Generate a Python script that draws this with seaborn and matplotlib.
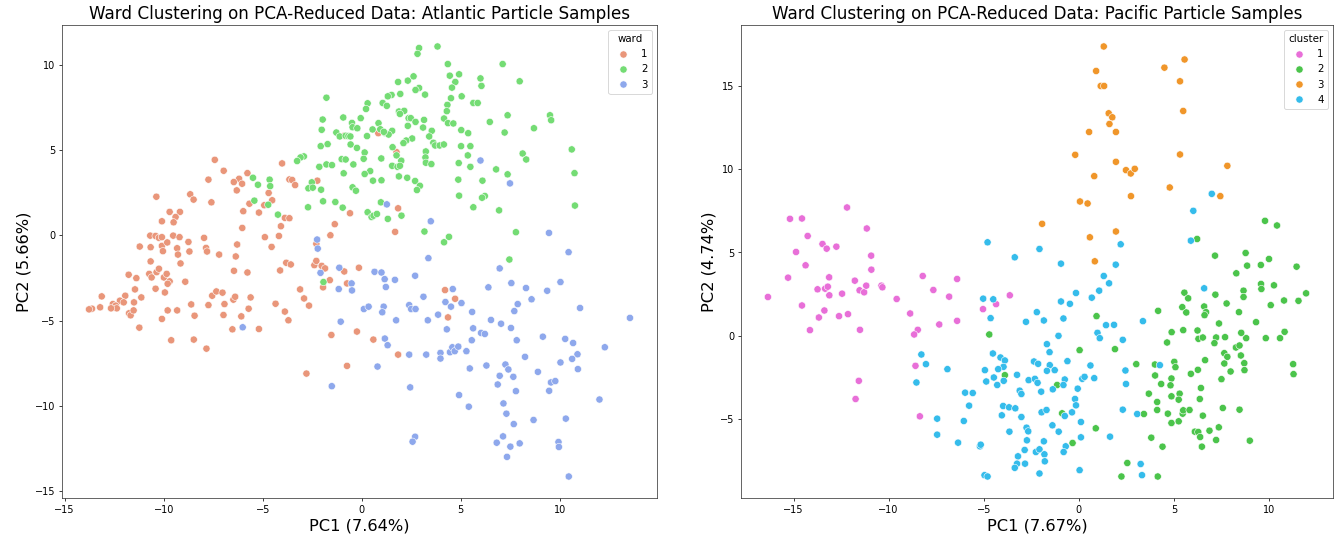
import numpy as np
import pandas as pd
import matplotlib
matplotlib.use("Agg")
import matplotlib.pyplot as plt
import seaborn as sns

# ---------------- Atlantic (left) ----------------
atl_c1 = [(-7.42,4.42),(-6.97,3.78),(-5.77,3.64),(-7.74,3.26),(-6.19,3.31),(-6.46,3.12),(-6.04,3.02),(-6.31,2.63),
(-10.37,2.26),(-8.66,2.40),(-8.49,2.09),(-7.59,1.93),(-5.67,1.85),(-9.70,1.37),(-9.18,1.37),(-9.40,1.07),(-9.50,0.76),
(-10.09,0.82),(-5.98,1.41),(-5.19,1.33),(-6.03,0.43),(-10.68,-0.02),(-10.41,-0.04),(-10.24,-0.15),(-10.09,-0.11),
(-9.52,-0.02),(-9.20,-0.11),(-7.96,-0.15),(-11.21,-0.66),(-10.66,-0.70),(-10.09,-0.62),(-9.82,-0.42),(-9.32,-0.76),
(-8.75,-0.39),(-7.86,-0.74),(-7.81,-0.95),(-6.29,-0.54),(-10.04,-0.93),(-9.28,-1.13),(-8.70,-0.95),(-7.20,-1.13),(-6.36,-1.24),
(0.84,5.98),(-0.88,5.83),(1.76,4.87),(-4.02,4.21),(-3.65,3.27),(-3.51,3.24),(-3.36,2.94),(-2.24,3.20),(-4.70,2.48),
(-4.52,2.05),(-4.92,1.76),(-0.59,1.29),(1.84,1.58),(-3.88,1.02),(-3.65,1.00),(-4.08,0.53),(-1.36,0.65),(-4.89,-0.11),
(-4.18,-0.04),(-1.58,0.00),(1.69,0.20),(-4.55,-0.68),(-2.29,-0.50),
(-10.66,-1.53),(-9.15,-1.65),(-11.77,-2.31),(-11.38,-2.51),(-10.73,-2.26),(-10.61,-2.47),(-10.36,-2.16),(-10.24,-1.96),
(-9.99,-2.47),(-9.85,-2.26),(-9.70,-2.70),(-9.80,-2.84),(-8.91,-2.72),(-11.45,-3.17),(-10.41,-3.13),(-9.94,-3.35),
(-13.13,-3.58),(-11.94,-3.54),(-12.21,-3.83),(-12.02,-3.93),(-12.57,-4.03),(-11.50,-3.93),(-11.13,-3.64),(-12.42,-4.12),
(-12.37,-4.28),(-12.66,-4.28),(-13.21,-4.22),(-13.62,-4.30),(-13.77,-4.34),(-11.75,-4.57),(-11.67,-4.69),(-11.52,-4.40),
(-10.09,-4.90),(-9.80,-4.40),(-9.32,-4.40),(-11.23,-5.41),(-8.61,-4.05),(-8.44,-4.71),(-9.62,-6.15),(-8.48,-6.11),
(-7.84,-6.64),(-7.74,-4.09),(-7.55,-3.54),(-7.34,-3.29),(-7.03,-3.36),(-6.93,-4.03),(-6.98,-4.67),(-6.48,-3.77),
(-6.39,-3.60),(-6.45,-2.08),(-5.77,-2.18),(-5.71,-4.30),(-5.61,-3.64),(-6.08,-4.75),(-6.53,-5.51),(-5.19,-5.49),
(-3.81,-1.61),(-3.58,-1.71),(-4.12,-2.06),(-2.39,-1.75),(-2.29,-1.50),(-2.02,-1.79),(-1.85,-1.94),(-1.61,-2.63),
(-0.88,-2.12),(-0.74,-2.82),(-1.95,-3.05),(-0.14,-1.90),(-3.11,-3.17),(-2.91,-3.70),(-4.35,-4.01),(-2.66,-4.12),
(-3.88,-4.47),(-3.70,-4.98),(-1.53,-5.84),(-0.24,-5.64),(0.59,-6.11),(1.84,-6.99),(-0.74,-7.65),(-2.79,-8.10),
(4.21,-3.21),(4.72,-3.72),(4.36,-4.81)]

atl_c2 = [(-5.49,3.37),(-5.24,2.96),(-5.42,2.03),
(2.90,10.97),(2.82,10.63),(3.83,11.06),(4.35,10.03),(4.45,9.35),(4.92,9.43),(4.73,8.98),(1.84,8.98),(2.33,9.06),
(2.62,9.31),(4.56,8.65),(2.90,8.63),(2.72,8.51),(1.51,8.22),(1.32,8.14),(1.95,8.28),(3.20,8.24),(5.05,8.14),(-1.78,8.06),
(4.51,8.03),(0.30,7.73),(0.22,7.40),(1.06,7.75),(1.27,7.58),(4.33,7.64),(1.88,7.25),(2.15,7.29),(1.93,7.11),(4.30,7.27),
(-0.93,6.90),(-0.05,6.86),(-1.97,6.78),(2.37,6.86),(2.48,6.86),(3.15,6.76),(4.16,6.84),(2.72,6.64),(-0.49,6.58),
(-0.46,6.33),(-0.22,6.27),(0.85,6.57),(2.33,6.41),(3.10,6.31),(4.36,6.57),(4.63,6.55),(-2.02,6.18),(0.55,6.20),
(0.94,6.21),(1.17,6.00),(1.54,6.12),(1.36,5.90),(1.12,6.06),(-1.28,6.02),(-1.11,5.79),(-0.81,5.83),(-0.67,5.81),
(-0.57,5.79),(0.27,5.81),(5.03,6.16),(3.54,6.12),(3.41,5.79),(2.55,5.67),(2.25,5.55),(2.11,5.40),(-2.07,5.22),
(-1.72,5.34),(-0.56,5.32),(-0.24,5.12),(1.56,5.16),(3.62,5.42),(3.71,5.26),(3.94,5.26),(4.15,5.32),(3.24,4.91),
(5.02,5.22),(0.15,4.85),(-2.92,4.62),(-3.09,4.56),(-3.26,4.35),(1.76,4.68),(3.22,4.56),(0.10,4.48),(-1.01,4.46),
(-0.81,4.44),(-2.14,4.01),(-1.78,4.15),(-1.50,4.11),(-0.42,4.15),(0.99,4.50),(2.00,4.37),(3.24,4.25),(3.52,4.17),
(4.90,4.23),(1.54,4.07),(1.81,4.01),(1.93,4.07),(0.43,3.76),(0.15,3.59),(-0.91,3.63),(-4.65,3.26),(-4.62,2.88),
(1.88,3.45),(2.30,3.37),(2.70,3.18),(0.57,3.20),(1.00,3.22),(-2.52,3.10),(-2.69,2.75),(-2.47,2.79),(-2.05,2.67),
(-0.46,2.81),(-0.29,2.61),(2.94,2.90),(2.79,2.65),(4.88,3.26),(-4.72,1.79),(-1.95,1.99),(-1.33,1.95),(-0.96,1.62),
(-2.71,1.64),(0.97,1.93),(4.92,2.32),(-4.23,1.21),(0.30,1.35),(0.50,1.07),(0.60,1.15),(0.77,1.25),(1.32,0.96),
(2.01,1.15),(3.17,0.22),(4.16,-0.41),(4.41,-0.09),
(7.12,10.03),(6.00,9.19),(6.05,8.75),(7.98,9.02),(5.64,7.75),(5.86,7.75),(7.37,7.03),(6.47,6.64),(9.51,7.03),
(9.57,6.74),(7.22,6.02),(8.70,6.27),(5.38,5.98),(5.49,5.22),(5.36,4.68),(5.49,4.01),(10.61,5.03),(8.13,4.79),
(8.31,4.44),(6.79,3.86),(7.37,3.57),(10.75,3.64),(6.10,3.20),(6.22,2.30),(6.08,2.20),(5.64,1.64),(6.94,1.46),
(10.77,1.74),(7.79,0.18),(7.46,-1.42),(-1.93,-2.74)]

atl_c3 = [(1.27,1.81),(3.49,0.82),(-2.25,-0.25),(-2.22,-0.78),(6.00,4.38),(7.49,3.04),(9.46,0.14),(10.45,-0.99),
(-6.01,-5.39),
(-2.08,-2.20),(-1.13,-1.90),(-0.51,-2.82),(-0.49,-3.23),(-1.16,-3.15),(0.65,-2.14),(1.00,-2.18),(1.16,-2.57),
(1.22,-3.03),(1.68,-2.61),(2.70,-2.37),(3.37,-1.34),(0.11,-4.32),(0.35,-4.18),(1.11,-4.18),(1.04,-4.51),(2.40,-4.09),
(2.50,-4.32),(2.72,-4.32),(3.12,-3.60),(1.74,-4.98),(-1.06,-5.06),(3.34,-4.98),(3.86,-4.65),(4.23,-3.91),(4.51,-4.18),
(4.60,-3.15),(5.04,-3.97),(4.30,-5.51),(1.17,-6.05),(1.31,-6.44),(2.40,-6.99),(3.26,-6.99),(3.98,-6.89),(3.98,-7.22),
(4.46,-6.85),(4.58,-6.56),(4.70,-6.79),(4.88,-6.52),(0.80,-7.69),(-1.51,-8.84),(2.45,-8.91),(4.92,-9.36),(2.70,-11.80),
(2.57,-12.09),
(6.97,-1.94),(6.40,-3.05),(7.56,-2.80),(8.30,-3.09),(9.37,-3.25),(10.04,-2.74),(8.58,-3.75),(7.88,-4.03),(7.71,-4.44),
(5.58,-4.49),(11.03,-4.26),(13.55,-4.84),(6.53,-4.96),(7.04,-5.18),(7.54,-5.43),(5.63,-5.45),(6.03,-5.72),(6.22,-5.78),
(5.56,-6.15),(7.83,-6.15),(9.15,-5.94),(10.28,-6.07),(10.68,-6.31),(12.28,-6.56),(5.29,-6.79),(8.25,-7.12),(10.90,-6.97),
(10.63,-7.24),(10.04,-7.45),(10.92,-7.84),(5.46,-7.80),(6.30,-7.63),(7.26,-7.57),(7.41,-7.86),(8.90,-8.00),(6.97,-8.23),
(7.66,-8.29),(6.87,-8.74),(9.56,-8.62),(9.78,-8.54),(7.79,-9.13),(9.47,-9.11),(12.01,-9.62),(5.41,-10.04),(7.16,-9.85),
(7.31,-10.45),(8.68,-10.82),(10.31,-10.74),(7.68,-11.06),(7.14,-11.78),(6.82,-12.15),(7.51,-12.38),(7.98,-12.19),
(9.94,-12.11),(9.96,-12.40),(7.34,-12.98),(10.46,-14.13)]

# ---------------- Pacific (right) ----------------
pac_c1 = [(-15.19,7.02),(-14.56,7.04),(-12.19,7.70),(-14.26,5.99),(-11.15,6.44),(-13.48,5.51),(-13.26,5.23),
(-12.75,5.35),(-14.87,5.03),(-10.92,4.81),
(-14.37,4.23),(-15.29,3.49),(-16.35,2.33),(-14.56,1.82),(-14.14,0.34),(-13.74,2.79),(-13.34,2.83),(-13.20,2.95),
(-13.13,3.51),(-13.12,2.43),(-13.38,1.52),(-13.67,1.10),(-12.45,2.53),(-12.61,1.18),(-12.14,1.30),(-11.78,3.31),
(-11.53,2.73),(-11.29,2.61),(-11.18,3.01),(-10.91,3.97),(-10.38,3.01),(-10.33,2.91),(-9.58,2.21),(-8.87,1.34),
(-8.47,0.36),(-8.66,0.08),(-11.51,0.36),(-8.59,-1.80),(-11.57,-2.70),(-11.74,-3.79),(-8.36,-4.83),
(-8.21,3.59),(-7.65,2.75),(-6.40,3.41),(-6.82,2.35),(-5.04,1.60),(-4.35,1.90),(-3.63,2.43),(-6.40,0.90),(-7.34,0.68)]

pac_c2 = [(9.79,6.90),(10.42,6.62),(6.22,5.81),(7.16,4.81),(8.77,4.97),
(0.93,1.18),(-4.71,0.08),(0.04,-0.86),(1.90,-0.80),(-3.89,-2.36),(-1.14,-2.95),(-0.88,-4.65),(0.89,-5.55),(-0.33,-6.43),
(8.85,4.21),(9.57,4.25),(10.00,4.61),(11.45,4.15),(8.28,3.75),(9.58,3.11),(10.26,3.03),(9.60,2.81),(8.66,2.71),
(8.66,2.33),(5.55,2.59),(5.75,2.25),(7.18,2.47),(11.95,2.55),(10.79,2.12),(11.55,2.10),(10.09,1.84),(7.77,1.94),
(4.17,1.50),(5.44,1.72),(5.65,1.40),(6.59,1.76),(6.69,1.42),(6.61,1.24),(8.42,1.42),(9.32,0.82),(7.37,0.74),
(4.88,0.22),(5.49,0.34),(6.24,0.32),(6.29,-0.18),(6.52,-0.10),(7.22,-0.10),(7.69,-0.08),(8.80,-0.14),(8.54,0.18),
(9.83,-0.14),(10.58,-0.14),(10.82,0.24),(4.64,-0.40),(7.13,-0.44),(8.26,-0.70),(8.45,-0.58),(7.65,-1.04),(7.81,-1.26),
(8.52,-1.18),(6.64,-1.46),(8.70,-1.64),(7.65,-1.66),(8.71,-2.06),(7.98,-2.14),(7.50,-2.60),(6.26,-2.04),(5.89,-2.28),
(11.27,-1.70),(11.29,-2.30),(5.02,-1.56),(5.08,-1.88),(4.00,-1.72),(3.02,-1.70),(4.01,-2.38),(4.87,-2.56),(4.82,-2.97),
(4.33,-2.89),(6.42,-3.13),(6.36,-3.79),(4.87,-3.63),(5.30,-3.47),(5.25,-3.83),(3.68,-3.47),(4.12,-3.97),(4.12,-4.45),
(4.68,-4.67),(5.46,-4.67),(5.49,-4.47),(5.82,-4.45),(6.52,-4.79),(7.57,-4.33),(8.45,-4.43),(4.87,-5.23),(5.25,-5.13),
(3.42,-4.69),(6.10,-5.75),(6.28,-5.77),(6.38,-6.07),(6.87,-5.69),(7.36,-5.49),(7.22,-6.25),(8.99,-6.29),(3.81,-6.11),
(4.40,-6.65),(6.47,-6.65),(2.55,-7.63),(2.24,-8.44),(4.15,-8.44)]

pac_c3 = [(1.31,17.36),(0.91,15.89),(1.15,14.99),(1.33,14.99),(1.57,13.35),(1.76,13.11),(1.61,12.71),(0.54,12.23),
(1.95,12.23),(-0.19,10.86),(1.95,10.44),(0.81,9.58),(0.06,8.06),(0.46,7.94),(-1.93,6.72),(1.95,6.26),(0.58,5.91),
(5.56,16.58),(4.50,16.09),(5.32,15.27),(5.49,13.49),(5.32,10.88),(7.81,10.20),(2.48,9.94),(2.73,9.74),(2.94,10.02),
(4.78,8.90),(2.74,8.38),(7.44,8.38),(0.84,4.47)]

pac_c4 = [(-4.80,5.61),(-2.07,5.21),(-3.37,4.71),(6.99,8.52),(6.02,7.50),(5.89,5.71),(2.20,5.49),(-8.28,-1.12),(-8.54,-2.80),
(-0.94,4.33),(1.94,4.27),(1.31,3.59),(1.59,3.15),(1.07,2.71),(-0.15,2.57),(0.68,2.29),(-0.94,2.06),(-0.47,1.92),
(-5.03,2.23),(-4.50,2.19),(-2.21,1.42),(-4.64,1.06),(-2.78,0.84),(-1.84,0.92),(-0.81,1.04),(1.43,0.64),(1.85,0.66),
(0.98,0.18),(1.10,-0.14),(-1.07,0.00),(-1.68,-0.50),(-1.54,-0.98),(-4.52,-1.06),(-4.12,-1.30),(-3.89,-1.48),(-3.96,-1.86),
(-4.24,-2.00),(-4.47,-2.50),(-4.87,-2.74),(-4.29,-2.95),(-3.95,-2.70),(-4.94,-2.06),(-8.04,-1.70),(-6.91,-2.00),
(-2.36,-1.54),(-2.14,-1.68),(-1.53,-1.76),(-1.68,-2.10),(-1.27,-2.06),(-0.60,-1.52),(0.61,-1.78),(-3.25,-2.34),
(-2.64,-2.66),(-2.31,-2.58),(-2.17,-2.82),(-0.74,-2.62),(-0.81,-2.95),(0.18,-2.58),(0.30,-2.46),(0.81,-2.54),
(-1.98,-3.35),(-1.37,-3.21),(-3.11,-3.29),(-3.02,-3.49),(-5.98,-3.41),(-5.58,-3.43),(-0.06,-3.17),(-0.20,-3.79),
(-0.15,-4.17),(-5.77,-4.19),(-3.98,-4.21),(-3.67,-4.29),(-3.34,-4.35),(-4.05,-4.77),(-3.02,-4.87),(-1.96,-4.59),
(-1.70,-4.45),(-0.36,-4.59),(-0.74,-4.81),(-7.45,-4.97),(-6.05,-5.11),(0.11,-5.17),(-1.39,-5.37),(-2.75,-5.51),
(-2.66,-5.73),(-3.65,-5.75),(-1.06,-5.75),(-7.45,-5.93),(0.11,-6.09),(1.64,-6.05),(-6.35,-6.41),(-5.20,-6.63),
(-5.16,-6.53),(-2.73,-6.27),(-1.84,-6.33),(-0.69,-6.63),(-0.80,-6.97),(-2.26,-6.97),(-2.07,-6.81),(-1.81,-7.11),
(-2.85,-6.85),(-3.20,-7.23),(-1.79,-7.53),(-3.25,-7.67),(-2.83,-7.67),(-3.37,-7.92),(0.04,-8.06),(-2.07,-8.26),
(-4.96,-8.36),(-4.80,-8.44),
(6.59,2.85),(3.37,0.88),(2.31,-0.24),(2.45,-2.08),(2.48,-2.89),(2.31,-4.43),(4.26,-1.76),(3.07,-4.69),(3.25,-7.69),(3.32,-8.36)]

atl_labels = ["1", "2", "3"]
pac_labels = ["1", "2", "3", "4"]
atl_colors = ["#E9967A", "#74DC74", "#8EA8EC"]
pac_colors = ["#E86FD8", "#4BC44B", "#F0962A", "#35BCEB"]

def build(groups, labels, col):
    rows = []
    for lab, pts in zip(labels, groups):
        for x, y in pts:
            rows.append((x, y, lab))
    return pd.DataFrame(rows, columns=["PC1", "PC2", col])

df_atl = build([atl_c1, atl_c2, atl_c3], atl_labels, "ward")
df_pac = build([pac_c1, pac_c2, pac_c3, pac_c4], pac_labels, "cluster")

fig = plt.figure(figsize=(20, 8.063), dpi=67.1)
W, H = 1342, 541
ax1 = fig.add_axes([62 / W, (H - 498) / H, (657 - 62) / W, (498 - 25) / H])
ax2 = fig.add_axes([741 / W, (H - 498) / H, (1333 - 741) / W, (498 - 25) / H])

sns.scatterplot(data=df_atl, x="PC1", y="PC2", hue="ward", hue_order=atl_labels,
                palette=dict(zip(atl_labels, atl_colors)), s=60, edgecolor="white", linewidth=0.6, ax=ax1)
sns.scatterplot(data=df_pac, x="PC1", y="PC2", hue="cluster", hue_order=pac_labels,
                palette=dict(zip(pac_labels, pac_colors)), s=60, edgecolor="white", linewidth=0.6, ax=ax2)

for ax, region, l1, l2 in [(ax1, "Atlantic", "PC1 (7.64%)", "PC2 (5.66%)"),
                           (ax2, "Pacific", "PC1 (7.67%)", "PC2 (4.74%)")]:
    ax.set_title(f"Ward Clustering on PCA-Reduced Data: {region} Particle Samples", fontsize=18)
    ax.set_xlabel(l1, fontsize=17.5)
    ax.set_ylabel(l2, fontsize=17.5)
    ax.tick_params(labelsize=10.5)
    for sp in ax.spines.values():
        sp.set_color("#333333")

ax1.legend(title="ward", loc="upper right", fontsize=11, title_fontsize=11)
ax2.legend(title="cluster", loc="upper right", fontsize=11, title_fontsize=11)

fig.savefig("out.png", dpi=67.1)
